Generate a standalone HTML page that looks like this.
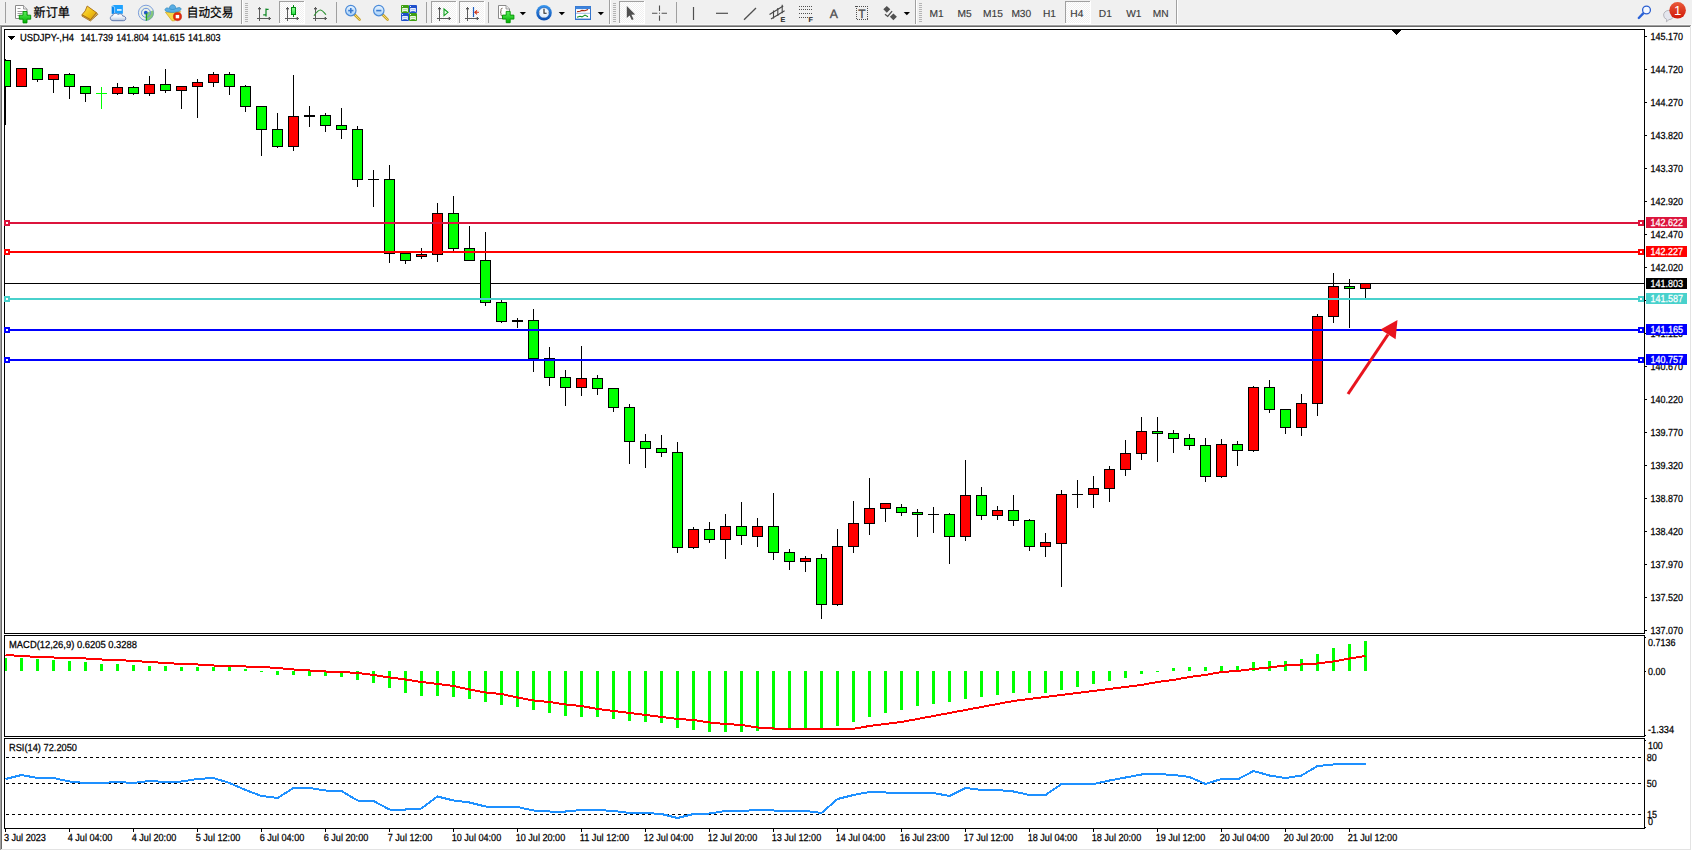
<!DOCTYPE html><html><head><meta charset="utf-8"><title>USDJPY H4</title>
<style>html,body{margin:0;padding:0;background:#fff;}body{width:1692px;height:851px;overflow:hidden;position:relative;font-family:"Liberation Sans","Noto Sans CJK SC",sans-serif;}svg{position:absolute;left:0;top:0;display:block}text{font-family:"Liberation Sans","Noto Sans CJK SC",sans-serif;}</style></head><body>
<svg width="1692" height="851" viewBox="0 0 1692 851" text-rendering="geometricPrecision">
<g shape-rendering="crispEdges">
<rect x="0" y="0" width="1692" height="851" fill="#ffffff"/>
<rect x="0" y="0" width="1692" height="24" fill="#f0f0f0"/>
<rect x="0" y="24" width="1692" height="1" fill="#f7f7f7"/>
<rect x="0" y="25" width="1691" height="1" fill="#a0a0a0"/>
<rect x="0" y="25" width="1" height="825" fill="#a0a0a0"/>
<rect x="1" y="26" width="1689" height="1" fill="#696969"/>
<rect x="1" y="26" width="1" height="823" fill="#696969"/>
<rect x="1690" y="26" width="1" height="824" fill="#e3e3e3"/>
<rect x="1" y="849" width="1690" height="1" fill="#e3e3e3"/>
<rect x="4" y="29" width="1641" height="1" fill="#000"/>
<rect x="4" y="633" width="1641" height="1" fill="#000"/>
<rect x="4" y="29" width="1" height="605" fill="#000"/>
<rect x="1644" y="29" width="1" height="605" fill="#000"/>
<rect x="4" y="635" width="1641" height="1" fill="#000"/>
<rect x="4" y="736" width="1641" height="1" fill="#000"/>
<rect x="4" y="635" width="1" height="102" fill="#000"/>
<rect x="1644" y="635" width="1" height="102" fill="#000"/>
<rect x="4" y="738" width="1641" height="1" fill="#000"/>
<rect x="4" y="828" width="1641" height="1" fill="#000"/>
<rect x="4" y="738" width="1" height="91" fill="#000"/>
<rect x="1644" y="738" width="1" height="91" fill="#000"/>
<rect x="1392" y="30" width="9" height="1" fill="#000"/>
<rect x="1393" y="31" width="7" height="1" fill="#000"/>
<rect x="1394" y="32" width="5" height="1" fill="#000"/>
<rect x="1395" y="33" width="3" height="1" fill="#000"/>
<rect x="1396" y="34" width="1" height="1" fill="#000"/>
<rect x="8" y="36" width="7" height="1" fill="#000"/>
<rect x="9" y="37" width="5" height="1" fill="#000"/>
<rect x="10" y="38" width="3" height="1" fill="#000"/>
<rect x="11" y="39" width="1" height="1" fill="#000"/>
<rect x="5" y="283" width="1639" height="1" fill="#000"/>
<rect x="5" y="59" width="1" height="66" fill="#000"/>
<rect x="5" y="60" width="6" height="27" fill="#000"/>
<rect x="5" y="61" width="5" height="25" fill="#00ff00"/>
<rect x="21" y="68" width="1" height="19" fill="#000"/>
<rect x="16" y="68" width="11" height="19" fill="#000"/>
<rect x="17" y="69" width="9" height="17" fill="#ff0000"/>
<rect x="37" y="68" width="1" height="14" fill="#000"/>
<rect x="32" y="68" width="11" height="12" fill="#000"/>
<rect x="33" y="69" width="9" height="10" fill="#00ff00"/>
<rect x="53" y="74" width="1" height="19" fill="#000"/>
<rect x="48" y="74" width="11" height="6" fill="#000"/>
<rect x="49" y="75" width="9" height="4" fill="#ff0000"/>
<rect x="69" y="73" width="1" height="26" fill="#000"/>
<rect x="64" y="74" width="11" height="13" fill="#000"/>
<rect x="65" y="75" width="9" height="11" fill="#00ff00"/>
<rect x="85" y="86" width="1" height="16" fill="#000"/>
<rect x="80" y="86" width="11" height="8" fill="#000"/>
<rect x="81" y="87" width="9" height="6" fill="#00ff00"/>
<rect x="101" y="87" width="1" height="22" fill="#00ff00"/>
<rect x="96" y="93" width="11" height="1" fill="#00ff00"/>
<rect x="117" y="83" width="1" height="12" fill="#000"/>
<rect x="112" y="87" width="11" height="7" fill="#000"/>
<rect x="113" y="88" width="9" height="5" fill="#ff0000"/>
<rect x="133" y="86" width="1" height="9" fill="#000"/>
<rect x="128" y="87" width="11" height="7" fill="#000"/>
<rect x="129" y="88" width="9" height="5" fill="#00ff00"/>
<rect x="149" y="76" width="1" height="20" fill="#000"/>
<rect x="144" y="84" width="11" height="10" fill="#000"/>
<rect x="145" y="85" width="9" height="8" fill="#ff0000"/>
<rect x="165" y="69" width="1" height="24" fill="#000"/>
<rect x="160" y="84" width="11" height="7" fill="#000"/>
<rect x="161" y="85" width="9" height="5" fill="#00ff00"/>
<rect x="181" y="86" width="1" height="23" fill="#000"/>
<rect x="176" y="86" width="11" height="5" fill="#000"/>
<rect x="177" y="87" width="9" height="3" fill="#ff0000"/>
<rect x="197" y="79" width="1" height="39" fill="#000"/>
<rect x="192" y="82" width="11" height="5" fill="#000"/>
<rect x="193" y="83" width="9" height="3" fill="#ff0000"/>
<rect x="213" y="72" width="1" height="15" fill="#000"/>
<rect x="208" y="74" width="11" height="9" fill="#000"/>
<rect x="209" y="75" width="9" height="7" fill="#ff0000"/>
<rect x="229" y="72" width="1" height="23" fill="#000"/>
<rect x="224" y="74" width="11" height="13" fill="#000"/>
<rect x="225" y="75" width="9" height="11" fill="#00ff00"/>
<rect x="245" y="85" width="1" height="27" fill="#000"/>
<rect x="240" y="86" width="11" height="21" fill="#000"/>
<rect x="241" y="87" width="9" height="19" fill="#00ff00"/>
<rect x="261" y="106" width="1" height="50" fill="#000"/>
<rect x="256" y="106" width="11" height="24" fill="#000"/>
<rect x="257" y="107" width="9" height="22" fill="#00ff00"/>
<rect x="277" y="113" width="1" height="35" fill="#000"/>
<rect x="272" y="129" width="11" height="18" fill="#000"/>
<rect x="273" y="130" width="9" height="16" fill="#00ff00"/>
<rect x="293" y="75" width="1" height="76" fill="#000"/>
<rect x="288" y="116" width="11" height="31" fill="#000"/>
<rect x="289" y="117" width="9" height="29" fill="#ff0000"/>
<rect x="309" y="106" width="1" height="21" fill="#000"/>
<rect x="304" y="115" width="11" height="2" fill="#000"/>
<rect x="325" y="113" width="1" height="19" fill="#000"/>
<rect x="320" y="115" width="11" height="11" fill="#000"/>
<rect x="321" y="116" width="9" height="9" fill="#00ff00"/>
<rect x="341" y="108" width="1" height="31" fill="#000"/>
<rect x="336" y="125" width="11" height="5" fill="#000"/>
<rect x="337" y="126" width="9" height="3" fill="#00ff00"/>
<rect x="357" y="126" width="1" height="61" fill="#000"/>
<rect x="352" y="129" width="11" height="51" fill="#000"/>
<rect x="353" y="130" width="9" height="49" fill="#00ff00"/>
<rect x="373" y="170" width="1" height="37" fill="#000"/>
<rect x="368" y="179" width="11" height="1" fill="#000"/>
<rect x="389" y="165" width="1" height="98" fill="#000"/>
<rect x="384" y="179" width="11" height="75" fill="#000"/>
<rect x="385" y="180" width="9" height="73" fill="#00ff00"/>
<rect x="405" y="253" width="1" height="11" fill="#000"/>
<rect x="400" y="253" width="11" height="8" fill="#000"/>
<rect x="401" y="254" width="9" height="6" fill="#00ff00"/>
<rect x="421" y="248" width="1" height="11" fill="#000"/>
<rect x="416" y="254" width="11" height="3" fill="#000"/>
<rect x="417" y="255" width="9" height="1" fill="#ff0000"/>
<rect x="437" y="203" width="1" height="59" fill="#000"/>
<rect x="432" y="213" width="11" height="42" fill="#000"/>
<rect x="433" y="214" width="9" height="40" fill="#ff0000"/>
<rect x="453" y="196" width="1" height="55" fill="#000"/>
<rect x="448" y="213" width="11" height="36" fill="#000"/>
<rect x="449" y="214" width="9" height="34" fill="#00ff00"/>
<rect x="469" y="226" width="1" height="35" fill="#000"/>
<rect x="464" y="248" width="11" height="13" fill="#000"/>
<rect x="465" y="249" width="9" height="11" fill="#00ff00"/>
<rect x="485" y="232" width="1" height="74" fill="#000"/>
<rect x="480" y="260" width="11" height="43" fill="#000"/>
<rect x="481" y="261" width="9" height="41" fill="#00ff00"/>
<rect x="501" y="300" width="1" height="23" fill="#000"/>
<rect x="496" y="302" width="11" height="20" fill="#000"/>
<rect x="497" y="303" width="9" height="18" fill="#00ff00"/>
<rect x="517" y="318" width="1" height="10" fill="#000"/>
<rect x="512" y="320" width="11" height="2" fill="#000"/>
<rect x="533" y="309" width="1" height="63" fill="#000"/>
<rect x="528" y="320" width="11" height="39" fill="#000"/>
<rect x="529" y="321" width="9" height="37" fill="#00ff00"/>
<rect x="549" y="347" width="1" height="39" fill="#000"/>
<rect x="544" y="358" width="11" height="20" fill="#000"/>
<rect x="545" y="359" width="9" height="18" fill="#00ff00"/>
<rect x="565" y="370" width="1" height="36" fill="#000"/>
<rect x="560" y="377" width="11" height="11" fill="#000"/>
<rect x="561" y="378" width="9" height="9" fill="#00ff00"/>
<rect x="581" y="346" width="1" height="50" fill="#000"/>
<rect x="576" y="378" width="11" height="10" fill="#000"/>
<rect x="577" y="379" width="9" height="8" fill="#ff0000"/>
<rect x="597" y="375" width="1" height="20" fill="#000"/>
<rect x="592" y="378" width="11" height="11" fill="#000"/>
<rect x="593" y="379" width="9" height="9" fill="#00ff00"/>
<rect x="613" y="388" width="1" height="24" fill="#000"/>
<rect x="608" y="388" width="11" height="20" fill="#000"/>
<rect x="609" y="389" width="9" height="18" fill="#00ff00"/>
<rect x="629" y="404" width="1" height="60" fill="#000"/>
<rect x="624" y="407" width="11" height="35" fill="#000"/>
<rect x="625" y="408" width="9" height="33" fill="#00ff00"/>
<rect x="645" y="434" width="1" height="34" fill="#000"/>
<rect x="640" y="441" width="11" height="8" fill="#000"/>
<rect x="641" y="442" width="9" height="6" fill="#00ff00"/>
<rect x="661" y="435" width="1" height="22" fill="#000"/>
<rect x="656" y="448" width="11" height="5" fill="#000"/>
<rect x="657" y="449" width="9" height="3" fill="#00ff00"/>
<rect x="677" y="442" width="1" height="111" fill="#000"/>
<rect x="672" y="452" width="11" height="96" fill="#000"/>
<rect x="673" y="453" width="9" height="94" fill="#00ff00"/>
<rect x="693" y="527" width="1" height="22" fill="#000"/>
<rect x="688" y="529" width="11" height="19" fill="#000"/>
<rect x="689" y="530" width="9" height="17" fill="#ff0000"/>
<rect x="709" y="522" width="1" height="21" fill="#000"/>
<rect x="704" y="529" width="11" height="11" fill="#000"/>
<rect x="705" y="530" width="9" height="9" fill="#00ff00"/>
<rect x="725" y="514" width="1" height="45" fill="#000"/>
<rect x="720" y="526" width="11" height="14" fill="#000"/>
<rect x="721" y="527" width="9" height="12" fill="#ff0000"/>
<rect x="741" y="502" width="1" height="43" fill="#000"/>
<rect x="736" y="526" width="11" height="10" fill="#000"/>
<rect x="737" y="527" width="9" height="8" fill="#00ff00"/>
<rect x="757" y="518" width="1" height="29" fill="#000"/>
<rect x="752" y="526" width="11" height="11" fill="#000"/>
<rect x="753" y="527" width="9" height="9" fill="#ff0000"/>
<rect x="773" y="493" width="1" height="67" fill="#000"/>
<rect x="768" y="526" width="11" height="27" fill="#000"/>
<rect x="769" y="527" width="9" height="25" fill="#00ff00"/>
<rect x="789" y="549" width="1" height="21" fill="#000"/>
<rect x="784" y="552" width="11" height="10" fill="#000"/>
<rect x="785" y="553" width="9" height="8" fill="#00ff00"/>
<rect x="805" y="556" width="1" height="16" fill="#000"/>
<rect x="800" y="558" width="11" height="4" fill="#000"/>
<rect x="801" y="559" width="9" height="2" fill="#ff0000"/>
<rect x="821" y="554" width="1" height="65" fill="#000"/>
<rect x="816" y="558" width="11" height="47" fill="#000"/>
<rect x="817" y="559" width="9" height="45" fill="#00ff00"/>
<rect x="837" y="529" width="1" height="77" fill="#000"/>
<rect x="832" y="546" width="11" height="59" fill="#000"/>
<rect x="833" y="547" width="9" height="57" fill="#ff0000"/>
<rect x="853" y="501" width="1" height="52" fill="#000"/>
<rect x="848" y="523" width="11" height="24" fill="#000"/>
<rect x="849" y="524" width="9" height="22" fill="#ff0000"/>
<rect x="869" y="478" width="1" height="57" fill="#000"/>
<rect x="864" y="508" width="11" height="16" fill="#000"/>
<rect x="865" y="509" width="9" height="14" fill="#ff0000"/>
<rect x="885" y="503" width="1" height="19" fill="#000"/>
<rect x="880" y="503" width="11" height="6" fill="#000"/>
<rect x="881" y="504" width="9" height="4" fill="#ff0000"/>
<rect x="901" y="504" width="1" height="12" fill="#000"/>
<rect x="896" y="507" width="11" height="6" fill="#000"/>
<rect x="897" y="508" width="9" height="4" fill="#00ff00"/>
<rect x="917" y="509" width="1" height="28" fill="#000"/>
<rect x="912" y="512" width="11" height="3" fill="#000"/>
<rect x="913" y="513" width="9" height="1" fill="#00ff00"/>
<rect x="933" y="507" width="1" height="26" fill="#000"/>
<rect x="928" y="514" width="11" height="1" fill="#000"/>
<rect x="949" y="513" width="1" height="51" fill="#000"/>
<rect x="944" y="514" width="11" height="23" fill="#000"/>
<rect x="945" y="515" width="9" height="21" fill="#00ff00"/>
<rect x="965" y="460" width="1" height="81" fill="#000"/>
<rect x="960" y="495" width="11" height="42" fill="#000"/>
<rect x="961" y="496" width="9" height="40" fill="#ff0000"/>
<rect x="981" y="487" width="1" height="33" fill="#000"/>
<rect x="976" y="495" width="11" height="21" fill="#000"/>
<rect x="977" y="496" width="9" height="19" fill="#00ff00"/>
<rect x="997" y="506" width="1" height="14" fill="#000"/>
<rect x="992" y="510" width="11" height="6" fill="#000"/>
<rect x="993" y="511" width="9" height="4" fill="#ff0000"/>
<rect x="1013" y="495" width="1" height="31" fill="#000"/>
<rect x="1008" y="510" width="11" height="11" fill="#000"/>
<rect x="1009" y="511" width="9" height="9" fill="#00ff00"/>
<rect x="1029" y="519" width="1" height="32" fill="#000"/>
<rect x="1024" y="520" width="11" height="27" fill="#000"/>
<rect x="1025" y="521" width="9" height="25" fill="#00ff00"/>
<rect x="1045" y="533" width="1" height="24" fill="#000"/>
<rect x="1040" y="542" width="11" height="5" fill="#000"/>
<rect x="1041" y="543" width="9" height="3" fill="#ff0000"/>
<rect x="1061" y="490" width="1" height="97" fill="#000"/>
<rect x="1056" y="494" width="11" height="50" fill="#000"/>
<rect x="1057" y="495" width="9" height="48" fill="#ff0000"/>
<rect x="1077" y="480" width="1" height="28" fill="#000"/>
<rect x="1072" y="494" width="11" height="1" fill="#000"/>
<rect x="1093" y="476" width="1" height="32" fill="#000"/>
<rect x="1088" y="488" width="11" height="7" fill="#000"/>
<rect x="1089" y="489" width="9" height="5" fill="#ff0000"/>
<rect x="1109" y="466" width="1" height="36" fill="#000"/>
<rect x="1104" y="469" width="11" height="20" fill="#000"/>
<rect x="1105" y="470" width="9" height="18" fill="#ff0000"/>
<rect x="1125" y="440" width="1" height="36" fill="#000"/>
<rect x="1120" y="453" width="11" height="17" fill="#000"/>
<rect x="1121" y="454" width="9" height="15" fill="#ff0000"/>
<rect x="1141" y="417" width="1" height="43" fill="#000"/>
<rect x="1136" y="431" width="11" height="23" fill="#000"/>
<rect x="1137" y="432" width="9" height="21" fill="#ff0000"/>
<rect x="1157" y="417" width="1" height="45" fill="#000"/>
<rect x="1152" y="431" width="11" height="3" fill="#000"/>
<rect x="1153" y="432" width="9" height="1" fill="#00ff00"/>
<rect x="1173" y="430" width="1" height="23" fill="#000"/>
<rect x="1168" y="433" width="11" height="6" fill="#000"/>
<rect x="1169" y="434" width="9" height="4" fill="#00ff00"/>
<rect x="1189" y="434" width="1" height="16" fill="#000"/>
<rect x="1184" y="438" width="11" height="8" fill="#000"/>
<rect x="1185" y="439" width="9" height="6" fill="#00ff00"/>
<rect x="1205" y="438" width="1" height="44" fill="#000"/>
<rect x="1200" y="445" width="11" height="32" fill="#000"/>
<rect x="1201" y="446" width="9" height="30" fill="#00ff00"/>
<rect x="1221" y="439" width="1" height="39" fill="#000"/>
<rect x="1216" y="444" width="11" height="33" fill="#000"/>
<rect x="1217" y="445" width="9" height="31" fill="#ff0000"/>
<rect x="1237" y="441" width="1" height="25" fill="#000"/>
<rect x="1232" y="444" width="11" height="7" fill="#000"/>
<rect x="1233" y="445" width="9" height="5" fill="#00ff00"/>
<rect x="1253" y="386" width="1" height="66" fill="#000"/>
<rect x="1248" y="387" width="11" height="64" fill="#000"/>
<rect x="1249" y="388" width="9" height="62" fill="#ff0000"/>
<rect x="1269" y="380" width="1" height="33" fill="#000"/>
<rect x="1264" y="387" width="11" height="23" fill="#000"/>
<rect x="1265" y="388" width="9" height="21" fill="#00ff00"/>
<rect x="1285" y="409" width="1" height="25" fill="#000"/>
<rect x="1280" y="409" width="11" height="19" fill="#000"/>
<rect x="1281" y="410" width="9" height="17" fill="#00ff00"/>
<rect x="1301" y="394" width="1" height="42" fill="#000"/>
<rect x="1296" y="403" width="11" height="25" fill="#000"/>
<rect x="1297" y="404" width="9" height="23" fill="#ff0000"/>
<rect x="1317" y="314" width="1" height="102" fill="#000"/>
<rect x="1312" y="316" width="11" height="88" fill="#000"/>
<rect x="1313" y="317" width="9" height="86" fill="#ff0000"/>
<rect x="1333" y="273" width="1" height="50" fill="#000"/>
<rect x="1328" y="286" width="11" height="31" fill="#000"/>
<rect x="1329" y="287" width="9" height="29" fill="#ff0000"/>
<rect x="1349" y="279" width="1" height="49" fill="#000"/>
<rect x="1344" y="286" width="11" height="3" fill="#000"/>
<rect x="1345" y="287" width="9" height="1" fill="#00ff00"/>
<rect x="1365" y="283" width="1" height="15" fill="#000"/>
<rect x="1360" y="283" width="11" height="6" fill="#000"/>
<rect x="1361" y="284" width="9" height="4" fill="#ff0000"/>
<rect x="5" y="222" width="1639" height="2" fill="#dc143c"/>
<rect x="4" y="220" width="6" height="6" fill="#dc143c"/>
<rect x="6" y="222" width="2" height="2" fill="#fff"/>
<rect x="1638" y="220" width="6" height="6" fill="#dc143c"/>
<rect x="1640" y="222" width="2" height="2" fill="#fff"/>
<rect x="5" y="251" width="1639" height="2" fill="#ff0000"/>
<rect x="4" y="249" width="6" height="6" fill="#ff0000"/>
<rect x="6" y="251" width="2" height="2" fill="#fff"/>
<rect x="1638" y="249" width="6" height="6" fill="#ff0000"/>
<rect x="1640" y="251" width="2" height="2" fill="#fff"/>
<rect x="5" y="298" width="1639" height="2" fill="#48d1cc"/>
<rect x="4" y="296" width="6" height="6" fill="#48d1cc"/>
<rect x="6" y="298" width="2" height="2" fill="#fff"/>
<rect x="1638" y="296" width="6" height="6" fill="#48d1cc"/>
<rect x="1640" y="298" width="2" height="2" fill="#fff"/>
<rect x="5" y="329" width="1639" height="2" fill="#0000ff"/>
<rect x="4" y="327" width="6" height="6" fill="#0000ff"/>
<rect x="6" y="329" width="2" height="2" fill="#fff"/>
<rect x="1638" y="327" width="6" height="6" fill="#0000ff"/>
<rect x="1640" y="329" width="2" height="2" fill="#fff"/>
<rect x="5" y="359" width="1639" height="2" fill="#0000ff"/>
<rect x="4" y="357" width="6" height="6" fill="#0000ff"/>
<rect x="6" y="359" width="2" height="2" fill="#fff"/>
<rect x="1638" y="357" width="6" height="6" fill="#0000ff"/>
<rect x="1640" y="359" width="2" height="2" fill="#fff"/>
<rect x="1645" y="36" width="2" height="1" fill="#000"/>
<rect x="1645" y="69" width="2" height="1" fill="#000"/>
<rect x="1645" y="102" width="2" height="1" fill="#000"/>
<rect x="1645" y="135" width="2" height="1" fill="#000"/>
<rect x="1645" y="168" width="2" height="1" fill="#000"/>
<rect x="1645" y="201" width="2" height="1" fill="#000"/>
<rect x="1645" y="234" width="2" height="1" fill="#000"/>
<rect x="1645" y="267" width="2" height="1" fill="#000"/>
<rect x="1645" y="300" width="2" height="1" fill="#000"/>
<rect x="1645" y="333" width="2" height="1" fill="#000"/>
<rect x="1645" y="366" width="2" height="1" fill="#000"/>
<rect x="1645" y="399" width="2" height="1" fill="#000"/>
<rect x="1645" y="432" width="2" height="1" fill="#000"/>
<rect x="1645" y="465" width="2" height="1" fill="#000"/>
<rect x="1645" y="498" width="2" height="1" fill="#000"/>
<rect x="1645" y="531" width="2" height="1" fill="#000"/>
<rect x="1645" y="564" width="2" height="1" fill="#000"/>
<rect x="1645" y="597" width="2" height="1" fill="#000"/>
<rect x="1645" y="630" width="2" height="1" fill="#000"/>
<rect x="1646" y="278" width="41" height="11" fill="#000"/>
<rect x="1646" y="217" width="41" height="11" fill="#dc143c"/>
<rect x="1646" y="246" width="41" height="11" fill="#ff0000"/>
<rect x="1646" y="293" width="41" height="11" fill="#48d1cc"/>
<rect x="1646" y="324" width="41" height="11" fill="#0000ff"/>
<rect x="1646" y="354" width="41" height="11" fill="#0000ff"/>
<rect x="5" y="658" width="2" height="13" fill="#00ff00"/>
<rect x="20" y="658" width="3" height="13" fill="#00ff00"/>
<rect x="36" y="659" width="3" height="12" fill="#00ff00"/>
<rect x="52" y="660" width="3" height="11" fill="#00ff00"/>
<rect x="68" y="661" width="3" height="10" fill="#00ff00"/>
<rect x="84" y="662" width="3" height="9" fill="#00ff00"/>
<rect x="100" y="664" width="3" height="7" fill="#00ff00"/>
<rect x="116" y="664" width="3" height="7" fill="#00ff00"/>
<rect x="132" y="665" width="3" height="6" fill="#00ff00"/>
<rect x="148" y="666" width="3" height="5" fill="#00ff00"/>
<rect x="164" y="666" width="3" height="5" fill="#00ff00"/>
<rect x="180" y="667" width="3" height="4" fill="#00ff00"/>
<rect x="196" y="667" width="3" height="4" fill="#00ff00"/>
<rect x="212" y="667" width="3" height="4" fill="#00ff00"/>
<rect x="228" y="667" width="3" height="4" fill="#00ff00"/>
<rect x="244" y="669" width="3" height="2" fill="#00ff00"/>
<rect x="260" y="671" width="3" height="1" fill="#00ff00"/>
<rect x="276" y="671" width="3" height="4" fill="#00ff00"/>
<rect x="292" y="671" width="3" height="4" fill="#00ff00"/>
<rect x="308" y="671" width="3" height="5" fill="#00ff00"/>
<rect x="324" y="671" width="3" height="5" fill="#00ff00"/>
<rect x="340" y="671" width="3" height="6" fill="#00ff00"/>
<rect x="356" y="671" width="3" height="9" fill="#00ff00"/>
<rect x="372" y="671" width="3" height="12" fill="#00ff00"/>
<rect x="388" y="671" width="3" height="17" fill="#00ff00"/>
<rect x="404" y="671" width="3" height="22" fill="#00ff00"/>
<rect x="420" y="671" width="3" height="25" fill="#00ff00"/>
<rect x="436" y="671" width="3" height="25" fill="#00ff00"/>
<rect x="452" y="671" width="3" height="26" fill="#00ff00"/>
<rect x="468" y="671" width="3" height="28" fill="#00ff00"/>
<rect x="484" y="671" width="3" height="31" fill="#00ff00"/>
<rect x="500" y="671" width="3" height="34" fill="#00ff00"/>
<rect x="516" y="671" width="3" height="36" fill="#00ff00"/>
<rect x="532" y="671" width="3" height="39" fill="#00ff00"/>
<rect x="548" y="671" width="3" height="42" fill="#00ff00"/>
<rect x="564" y="671" width="3" height="45" fill="#00ff00"/>
<rect x="580" y="671" width="3" height="46" fill="#00ff00"/>
<rect x="596" y="671" width="3" height="46" fill="#00ff00"/>
<rect x="612" y="671" width="3" height="48" fill="#00ff00"/>
<rect x="628" y="671" width="3" height="50" fill="#00ff00"/>
<rect x="644" y="671" width="3" height="51" fill="#00ff00"/>
<rect x="660" y="671" width="3" height="52" fill="#00ff00"/>
<rect x="676" y="671" width="3" height="57" fill="#00ff00"/>
<rect x="692" y="671" width="3" height="59" fill="#00ff00"/>
<rect x="708" y="671" width="3" height="61" fill="#00ff00"/>
<rect x="724" y="671" width="3" height="61" fill="#00ff00"/>
<rect x="740" y="671" width="3" height="61" fill="#00ff00"/>
<rect x="756" y="671" width="3" height="60" fill="#00ff00"/>
<rect x="772" y="671" width="3" height="59" fill="#00ff00"/>
<rect x="788" y="671" width="3" height="58" fill="#00ff00"/>
<rect x="804" y="671" width="3" height="57" fill="#00ff00"/>
<rect x="820" y="671" width="3" height="57" fill="#00ff00"/>
<rect x="836" y="671" width="3" height="55" fill="#00ff00"/>
<rect x="852" y="671" width="3" height="51" fill="#00ff00"/>
<rect x="868" y="671" width="3" height="46" fill="#00ff00"/>
<rect x="884" y="671" width="3" height="42" fill="#00ff00"/>
<rect x="900" y="671" width="3" height="39" fill="#00ff00"/>
<rect x="916" y="671" width="3" height="35" fill="#00ff00"/>
<rect x="932" y="671" width="3" height="33" fill="#00ff00"/>
<rect x="948" y="671" width="3" height="31" fill="#00ff00"/>
<rect x="964" y="671" width="3" height="28" fill="#00ff00"/>
<rect x="980" y="671" width="3" height="26" fill="#00ff00"/>
<rect x="996" y="671" width="3" height="24" fill="#00ff00"/>
<rect x="1012" y="671" width="3" height="22" fill="#00ff00"/>
<rect x="1028" y="671" width="3" height="22" fill="#00ff00"/>
<rect x="1044" y="671" width="3" height="22" fill="#00ff00"/>
<rect x="1060" y="671" width="3" height="19" fill="#00ff00"/>
<rect x="1076" y="671" width="3" height="16" fill="#00ff00"/>
<rect x="1092" y="671" width="3" height="13" fill="#00ff00"/>
<rect x="1108" y="671" width="3" height="10" fill="#00ff00"/>
<rect x="1124" y="671" width="3" height="7" fill="#00ff00"/>
<rect x="1140" y="671" width="3" height="3" fill="#00ff00"/>
<rect x="1156" y="671" width="3" height="1" fill="#00ff00"/>
<rect x="1172" y="668" width="3" height="3" fill="#00ff00"/>
<rect x="1188" y="667" width="3" height="4" fill="#00ff00"/>
<rect x="1204" y="667" width="3" height="4" fill="#00ff00"/>
<rect x="1220" y="666" width="3" height="5" fill="#00ff00"/>
<rect x="1236" y="666" width="3" height="5" fill="#00ff00"/>
<rect x="1252" y="662" width="3" height="9" fill="#00ff00"/>
<rect x="1268" y="661" width="3" height="10" fill="#00ff00"/>
<rect x="1284" y="661" width="3" height="10" fill="#00ff00"/>
<rect x="1300" y="659" width="3" height="12" fill="#00ff00"/>
<rect x="1316" y="654" width="3" height="17" fill="#00ff00"/>
<rect x="1332" y="648" width="3" height="23" fill="#00ff00"/>
<rect x="1348" y="644" width="3" height="27" fill="#00ff00"/>
<rect x="1364" y="641" width="3" height="30" fill="#00ff00"/>
<rect x="1645" y="637" width="1" height="1" fill="#000"/>
<rect x="1645" y="671" width="1" height="1" fill="#000"/>
<rect x="1645" y="735" width="1" height="1" fill="#000"/>
<rect x="1645" y="740" width="1" height="1" fill="#000"/>
<rect x="1645" y="827" width="1" height="1" fill="#000"/>
<path d="M6 757.5 H1644" stroke="#000" stroke-width="1" stroke-dasharray="3 3" fill="none"/>
<path d="M6 783.5 H1644" stroke="#000" stroke-width="1" stroke-dasharray="3 3" fill="none"/>
<path d="M6 814.5 H1644" stroke="#000" stroke-width="1" stroke-dasharray="3 3" fill="none"/>
<rect x="5" y="829" width="1" height="3" fill="#000"/>
<rect x="69" y="829" width="1" height="3" fill="#000"/>
<rect x="133" y="829" width="1" height="3" fill="#000"/>
<rect x="197" y="829" width="1" height="3" fill="#000"/>
<rect x="261" y="829" width="1" height="3" fill="#000"/>
<rect x="325" y="829" width="1" height="3" fill="#000"/>
<rect x="389" y="829" width="1" height="3" fill="#000"/>
<rect x="453" y="829" width="1" height="3" fill="#000"/>
<rect x="517" y="829" width="1" height="3" fill="#000"/>
<rect x="581" y="829" width="1" height="3" fill="#000"/>
<rect x="645" y="829" width="1" height="3" fill="#000"/>
<rect x="709" y="829" width="1" height="3" fill="#000"/>
<rect x="773" y="829" width="1" height="3" fill="#000"/>
<rect x="837" y="829" width="1" height="3" fill="#000"/>
<rect x="901" y="829" width="1" height="3" fill="#000"/>
<rect x="965" y="829" width="1" height="3" fill="#000"/>
<rect x="1029" y="829" width="1" height="3" fill="#000"/>
<rect x="1093" y="829" width="1" height="3" fill="#000"/>
<rect x="1157" y="829" width="1" height="3" fill="#000"/>
<rect x="1221" y="829" width="1" height="3" fill="#000"/>
<rect x="1285" y="829" width="1" height="3" fill="#000"/>
<rect x="1349" y="829" width="1" height="3" fill="#000"/>
</g>
<polyline points="5.5,655 21.5,656 37.5,657 53.5,657.5 69.5,658 85.5,658.5 101.5,659.5 117.5,660 133.5,661 149.5,662 165.5,663 181.5,664 197.5,664.5 213.5,665.5 229.5,666 245.5,666.5 261.5,667 277.5,668 293.5,669.5 309.5,670.5 325.5,671.5 341.5,672 357.5,673 373.5,675 389.5,677.5 405.5,679.5 421.5,682 437.5,684 453.5,686 469.5,689.5 485.5,692.5 501.5,694 517.5,697.5 533.5,700.5 549.5,702 565.5,704.5 581.5,706 597.5,709 613.5,711 629.5,713 645.5,715 661.5,717 677.5,719 693.5,720 709.5,722.5 725.5,724 741.5,725 757.5,727.5 773.5,728.5 789.5,728.75 805.5,728.75 821.5,728.75 837.5,728.75 853.5,728.75 869.5,726 885.5,724 901.5,722 917.5,719 933.5,716 949.5,713 965.5,710 981.5,707 997.5,704 1013.5,701 1029.5,699 1045.5,697 1061.5,695 1077.5,693 1093.5,691 1109.5,689 1125.5,687 1141.5,685 1157.5,682 1173.5,680 1189.5,677 1205.5,675 1221.5,672 1237.5,671 1253.5,669 1269.5,667.5 1285.5,665.5 1301.5,664.5 1317.5,663.5 1333.5,661.5 1349.5,658.5 1365.5,656" fill="none" stroke="#ff0000" stroke-width="2" stroke-linejoin="round" shape-rendering="crispEdges"/>
<polyline points="5.5,779 21.5,775 37.5,778 53.5,778 69.5,781.5 85.5,783 101.5,783 117.5,782 133.5,783 149.5,781 165.5,782 181.5,781.5 197.5,779 213.5,778 229.5,783 245.5,790 261.5,796 277.5,798 293.5,788 309.5,788 325.5,790.5 341.5,791 357.5,800.5 373.5,801 389.5,809.5 405.5,809.5 421.5,808.5 437.5,796.5 453.5,800.5 469.5,802.5 485.5,806.5 501.5,806.5 517.5,807 533.5,810.5 549.5,811.5 565.5,811.5 581.5,810 597.5,810 613.5,811 629.5,813 645.5,813 661.5,814 677.5,818 693.5,814 709.5,813.5 725.5,811 741.5,811 757.5,810 773.5,810.5 789.5,811 805.5,811 821.5,813 837.5,799 853.5,795 869.5,792 885.5,792.5 901.5,793 917.5,793 933.5,793 949.5,796 965.5,788 981.5,790 997.5,790 1013.5,791.5 1029.5,795 1045.5,795 1061.5,784 1077.5,784 1093.5,784 1109.5,780.5 1125.5,777.5 1141.5,774.5 1157.5,774 1173.5,775 1189.5,777 1205.5,784 1221.5,779 1237.5,779.5 1253.5,771 1269.5,775.5 1285.5,778 1301.5,775.5 1317.5,766 1333.5,764.5 1349.5,764 1365.5,764" fill="none" stroke="#1e90ff" stroke-width="2" stroke-linejoin="round" shape-rendering="crispEdges"/>
<line x1="1348" y1="394" x2="1388" y2="334.5" stroke="#e8141e" stroke-width="3.1"/>
<polygon points="1397.5,320 1380.5,329.5 1395.6,339.2" fill="#e8141e"/>
<text x="20" y="41" font-size="10.2px" fill="#000" stroke="#000" stroke-width="0.25" text-anchor="start" textLength="54" lengthAdjust="spacingAndGlyphs" xml:space="preserve">USDJPY-,H4</text>
<text x="80.5" y="41" font-size="10.2px" fill="#000" stroke="#000" stroke-width="0.25" text-anchor="start" textLength="32.5" lengthAdjust="spacingAndGlyphs" xml:space="preserve">141.739</text>
<text x="116.35" y="41" font-size="10.2px" fill="#000" stroke="#000" stroke-width="0.25" text-anchor="start" textLength="32.5" lengthAdjust="spacingAndGlyphs" xml:space="preserve">141.804</text>
<text x="152.2" y="41" font-size="10.2px" fill="#000" stroke="#000" stroke-width="0.25" text-anchor="start" textLength="32.5" lengthAdjust="spacingAndGlyphs" xml:space="preserve">141.615</text>
<text x="188.05" y="41" font-size="10.2px" fill="#000" stroke="#000" stroke-width="0.25" text-anchor="start" textLength="32.5" lengthAdjust="spacingAndGlyphs" xml:space="preserve">141.803</text>
<text x="9" y="648" font-size="10.2px" fill="#000" stroke="#000" stroke-width="0.25" text-anchor="start" textLength="128" lengthAdjust="spacingAndGlyphs" xml:space="preserve">MACD(12,26,9) 0.6205 0.3288</text>
<text x="9" y="751" font-size="10.2px" fill="#000" stroke="#000" stroke-width="0.25" text-anchor="start" textLength="68" lengthAdjust="spacingAndGlyphs" xml:space="preserve">RSI(14) 72.2050</text>
<text x="1650.5" y="40" font-size="10.2px" fill="#000" stroke="#000" stroke-width="0.25" text-anchor="start" textLength="32.5" lengthAdjust="spacingAndGlyphs" xml:space="preserve">145.170</text>
<text x="1650.5" y="73" font-size="10.2px" fill="#000" stroke="#000" stroke-width="0.25" text-anchor="start" textLength="32.5" lengthAdjust="spacingAndGlyphs" xml:space="preserve">144.720</text>
<text x="1650.5" y="106" font-size="10.2px" fill="#000" stroke="#000" stroke-width="0.25" text-anchor="start" textLength="32.5" lengthAdjust="spacingAndGlyphs" xml:space="preserve">144.270</text>
<text x="1650.5" y="139" font-size="10.2px" fill="#000" stroke="#000" stroke-width="0.25" text-anchor="start" textLength="32.5" lengthAdjust="spacingAndGlyphs" xml:space="preserve">143.820</text>
<text x="1650.5" y="172" font-size="10.2px" fill="#000" stroke="#000" stroke-width="0.25" text-anchor="start" textLength="32.5" lengthAdjust="spacingAndGlyphs" xml:space="preserve">143.370</text>
<text x="1650.5" y="205" font-size="10.2px" fill="#000" stroke="#000" stroke-width="0.25" text-anchor="start" textLength="32.5" lengthAdjust="spacingAndGlyphs" xml:space="preserve">142.920</text>
<text x="1650.5" y="238" font-size="10.2px" fill="#000" stroke="#000" stroke-width="0.25" text-anchor="start" textLength="32.5" lengthAdjust="spacingAndGlyphs" xml:space="preserve">142.470</text>
<text x="1650.5" y="271" font-size="10.2px" fill="#000" stroke="#000" stroke-width="0.25" text-anchor="start" textLength="32.5" lengthAdjust="spacingAndGlyphs" xml:space="preserve">142.020</text>
<text x="1650.5" y="337" font-size="10.2px" fill="#000" stroke="#000" stroke-width="0.25" text-anchor="start" textLength="32.5" lengthAdjust="spacingAndGlyphs" xml:space="preserve">141.120</text>
<text x="1650.5" y="370" font-size="10.2px" fill="#000" stroke="#000" stroke-width="0.25" text-anchor="start" textLength="32.5" lengthAdjust="spacingAndGlyphs" xml:space="preserve">140.670</text>
<text x="1650.5" y="403" font-size="10.2px" fill="#000" stroke="#000" stroke-width="0.25" text-anchor="start" textLength="32.5" lengthAdjust="spacingAndGlyphs" xml:space="preserve">140.220</text>
<text x="1650.5" y="436" font-size="10.2px" fill="#000" stroke="#000" stroke-width="0.25" text-anchor="start" textLength="32.5" lengthAdjust="spacingAndGlyphs" xml:space="preserve">139.770</text>
<text x="1650.5" y="469" font-size="10.2px" fill="#000" stroke="#000" stroke-width="0.25" text-anchor="start" textLength="32.5" lengthAdjust="spacingAndGlyphs" xml:space="preserve">139.320</text>
<text x="1650.5" y="502" font-size="10.2px" fill="#000" stroke="#000" stroke-width="0.25" text-anchor="start" textLength="32.5" lengthAdjust="spacingAndGlyphs" xml:space="preserve">138.870</text>
<text x="1650.5" y="535" font-size="10.2px" fill="#000" stroke="#000" stroke-width="0.25" text-anchor="start" textLength="32.5" lengthAdjust="spacingAndGlyphs" xml:space="preserve">138.420</text>
<text x="1650.5" y="568" font-size="10.2px" fill="#000" stroke="#000" stroke-width="0.25" text-anchor="start" textLength="32.5" lengthAdjust="spacingAndGlyphs" xml:space="preserve">137.970</text>
<text x="1650.5" y="601" font-size="10.2px" fill="#000" stroke="#000" stroke-width="0.25" text-anchor="start" textLength="32.5" lengthAdjust="spacingAndGlyphs" xml:space="preserve">137.520</text>
<text x="1650.5" y="634" font-size="10.2px" fill="#000" stroke="#000" stroke-width="0.25" text-anchor="start" textLength="32.5" lengthAdjust="spacingAndGlyphs" xml:space="preserve">137.070</text>
<g shape-rendering="crispEdges">
<rect x="1646" y="278" width="41" height="11" fill="#000"/>
<rect x="1646" y="217" width="41" height="11" fill="#dc143c"/>
<rect x="1646" y="246" width="41" height="11" fill="#ff0000"/>
<rect x="1646" y="293" width="41" height="11" fill="#48d1cc"/>
<rect x="1646" y="324" width="41" height="11" fill="#0000ff"/>
<rect x="1646" y="354" width="41" height="11" fill="#0000ff"/>
</g>
<text x="1650.5" y="287" font-size="10.2px" fill="#fff" stroke="#fff" stroke-width="0.25" text-anchor="start" textLength="32.5" lengthAdjust="spacingAndGlyphs" xml:space="preserve">141.803</text>
<text x="1650.5" y="226" font-size="10.2px" fill="#fff" stroke="#fff" stroke-width="0.25" text-anchor="start" textLength="32.5" lengthAdjust="spacingAndGlyphs" xml:space="preserve">142.622</text>
<text x="1650.5" y="255" font-size="10.2px" fill="#fff" stroke="#fff" stroke-width="0.25" text-anchor="start" textLength="32.5" lengthAdjust="spacingAndGlyphs" xml:space="preserve">142.227</text>
<text x="1650.5" y="302" font-size="10.2px" fill="#fff" stroke="#fff" stroke-width="0.25" text-anchor="start" textLength="32.5" lengthAdjust="spacingAndGlyphs" xml:space="preserve">141.587</text>
<text x="1650.5" y="333" font-size="10.2px" fill="#fff" stroke="#fff" stroke-width="0.25" text-anchor="start" textLength="32.5" lengthAdjust="spacingAndGlyphs" xml:space="preserve">141.165</text>
<text x="1650.5" y="363" font-size="10.2px" fill="#fff" stroke="#fff" stroke-width="0.25" text-anchor="start" textLength="32.5" lengthAdjust="spacingAndGlyphs" xml:space="preserve">140.757</text>
<text x="1648" y="646" font-size="10.2px" fill="#000" stroke="#000" stroke-width="0.25" text-anchor="start" textLength="27.5" lengthAdjust="spacingAndGlyphs" xml:space="preserve">0.7136</text>
<text x="1648" y="675" font-size="10.2px" fill="#000" stroke="#000" stroke-width="0.25" text-anchor="start" textLength="17.5" lengthAdjust="spacingAndGlyphs" xml:space="preserve">0.00</text>
<text x="1648" y="733" font-size="10.2px" fill="#000" stroke="#000" stroke-width="0.25" text-anchor="start" textLength="26" lengthAdjust="spacingAndGlyphs" xml:space="preserve">-1.334</text>
<text x="1648" y="749" font-size="10.2px" fill="#000" stroke="#000" stroke-width="0.25" text-anchor="start" textLength="14.8" lengthAdjust="spacingAndGlyphs" xml:space="preserve">100</text>
<text x="1646.8" y="761" font-size="10.2px" fill="#000" stroke="#000" stroke-width="0.25" text-anchor="start" textLength="10" lengthAdjust="spacingAndGlyphs" xml:space="preserve">80</text>
<text x="1646.8" y="787" font-size="10.2px" fill="#000" stroke="#000" stroke-width="0.25" text-anchor="start" textLength="10" lengthAdjust="spacingAndGlyphs" xml:space="preserve">50</text>
<text x="1647" y="818" font-size="10.2px" fill="#000" stroke="#000" stroke-width="0.25" text-anchor="start" textLength="10" lengthAdjust="spacingAndGlyphs" xml:space="preserve">15</text>
<text x="1648" y="825" font-size="10.2px" fill="#000" stroke="#000" stroke-width="0.25" text-anchor="start" textLength="5" lengthAdjust="spacingAndGlyphs" xml:space="preserve">0</text>
<text x="3.9" y="841" font-size="10.2px" fill="#000" stroke="#000" stroke-width="0.25" text-anchor="start" textLength="42" lengthAdjust="spacingAndGlyphs" xml:space="preserve">3 Jul 2023</text>
<text x="67.7" y="841" font-size="10.2px" fill="#000" stroke="#000" stroke-width="0.25" text-anchor="start" textLength="44.6" lengthAdjust="spacingAndGlyphs" xml:space="preserve">4 Jul 04:00</text>
<text x="131.7" y="841" font-size="10.2px" fill="#000" stroke="#000" stroke-width="0.25" text-anchor="start" textLength="44.6" lengthAdjust="spacingAndGlyphs" xml:space="preserve">4 Jul 20:00</text>
<text x="195.7" y="841" font-size="10.2px" fill="#000" stroke="#000" stroke-width="0.25" text-anchor="start" textLength="44.6" lengthAdjust="spacingAndGlyphs" xml:space="preserve">5 Jul 12:00</text>
<text x="259.7" y="841" font-size="10.2px" fill="#000" stroke="#000" stroke-width="0.25" text-anchor="start" textLength="44.6" lengthAdjust="spacingAndGlyphs" xml:space="preserve">6 Jul 04:00</text>
<text x="323.7" y="841" font-size="10.2px" fill="#000" stroke="#000" stroke-width="0.25" text-anchor="start" textLength="44.6" lengthAdjust="spacingAndGlyphs" xml:space="preserve">6 Jul 20:00</text>
<text x="387.7" y="841" font-size="10.2px" fill="#000" stroke="#000" stroke-width="0.25" text-anchor="start" textLength="44.6" lengthAdjust="spacingAndGlyphs" xml:space="preserve">7 Jul 12:00</text>
<text x="451.7" y="841" font-size="10.2px" fill="#000" stroke="#000" stroke-width="0.25" text-anchor="start" textLength="49.5" lengthAdjust="spacingAndGlyphs" xml:space="preserve">10 Jul 04:00</text>
<text x="515.7" y="841" font-size="10.2px" fill="#000" stroke="#000" stroke-width="0.25" text-anchor="start" textLength="49.5" lengthAdjust="spacingAndGlyphs" xml:space="preserve">10 Jul 20:00</text>
<text x="579.7" y="841" font-size="10.2px" fill="#000" stroke="#000" stroke-width="0.25" text-anchor="start" textLength="49.5" lengthAdjust="spacingAndGlyphs" xml:space="preserve">11 Jul 12:00</text>
<text x="643.7" y="841" font-size="10.2px" fill="#000" stroke="#000" stroke-width="0.25" text-anchor="start" textLength="49.5" lengthAdjust="spacingAndGlyphs" xml:space="preserve">12 Jul 04:00</text>
<text x="707.7" y="841" font-size="10.2px" fill="#000" stroke="#000" stroke-width="0.25" text-anchor="start" textLength="49.5" lengthAdjust="spacingAndGlyphs" xml:space="preserve">12 Jul 20:00</text>
<text x="771.7" y="841" font-size="10.2px" fill="#000" stroke="#000" stroke-width="0.25" text-anchor="start" textLength="49.5" lengthAdjust="spacingAndGlyphs" xml:space="preserve">13 Jul 12:00</text>
<text x="835.7" y="841" font-size="10.2px" fill="#000" stroke="#000" stroke-width="0.25" text-anchor="start" textLength="49.5" lengthAdjust="spacingAndGlyphs" xml:space="preserve">14 Jul 04:00</text>
<text x="899.7" y="841" font-size="10.2px" fill="#000" stroke="#000" stroke-width="0.25" text-anchor="start" textLength="49.5" lengthAdjust="spacingAndGlyphs" xml:space="preserve">16 Jul 23:00</text>
<text x="963.7" y="841" font-size="10.2px" fill="#000" stroke="#000" stroke-width="0.25" text-anchor="start" textLength="49.5" lengthAdjust="spacingAndGlyphs" xml:space="preserve">17 Jul 12:00</text>
<text x="1027.7" y="841" font-size="10.2px" fill="#000" stroke="#000" stroke-width="0.25" text-anchor="start" textLength="49.5" lengthAdjust="spacingAndGlyphs" xml:space="preserve">18 Jul 04:00</text>
<text x="1091.7" y="841" font-size="10.2px" fill="#000" stroke="#000" stroke-width="0.25" text-anchor="start" textLength="49.5" lengthAdjust="spacingAndGlyphs" xml:space="preserve">18 Jul 20:00</text>
<text x="1155.7" y="841" font-size="10.2px" fill="#000" stroke="#000" stroke-width="0.25" text-anchor="start" textLength="49.5" lengthAdjust="spacingAndGlyphs" xml:space="preserve">19 Jul 12:00</text>
<text x="1219.7" y="841" font-size="10.2px" fill="#000" stroke="#000" stroke-width="0.25" text-anchor="start" textLength="49.5" lengthAdjust="spacingAndGlyphs" xml:space="preserve">20 Jul 04:00</text>
<text x="1283.7" y="841" font-size="10.2px" fill="#000" stroke="#000" stroke-width="0.25" text-anchor="start" textLength="49.5" lengthAdjust="spacingAndGlyphs" xml:space="preserve">20 Jul 20:00</text>
<text x="1347.7" y="841" font-size="10.2px" fill="#000" stroke="#000" stroke-width="0.25" text-anchor="start" textLength="49.5" lengthAdjust="spacingAndGlyphs" xml:space="preserve">21 Jul 12:00</text>
<defs><linearGradient id="gG" x1="0" y1="0" x2="0" y2="1"><stop offset="0" stop-color="#5cf05c"/><stop offset="1" stop-color="#00b000"/></linearGradient><linearGradient id="gG2" x1="0" y1="0" x2="0" y2="1"><stop offset="0" stop-color="#a0ffa0"/><stop offset="1" stop-color="#20e040"/></linearGradient><linearGradient id="gCloud" x1="0" y1="0" x2="0" y2="1"><stop offset="0" stop-color="#ffffff"/><stop offset="0.5" stop-color="#f0f3f8"/><stop offset="1" stop-color="#b4c2da"/></linearGradient><linearGradient id="gBlue2" x1="0" y1="0" x2="0" y2="1"><stop offset="0" stop-color="#3a98f0"/><stop offset="1" stop-color="#0a4cb0"/></linearGradient><linearGradient id="gGold" x1="0" y1="0" x2="1" y2="1"><stop offset="0" stop-color="#fbe060"/><stop offset="0.5" stop-color="#f2c418"/><stop offset="1" stop-color="#d89a08"/></linearGradient><linearGradient id="gBlue" x1="0" y1="0" x2="0" y2="1"><stop offset="0" stop-color="#58b8ff"/><stop offset="1" stop-color="#1070e0"/></linearGradient><linearGradient id="gRedB" x1="0" y1="0" x2="0" y2="1"><stop offset="0" stop-color="#ea5a3a"/><stop offset="1" stop-color="#d01808"/></linearGradient><linearGradient id="gLens" x1="0" y1="0" x2="0" y2="1"><stop offset="0" stop-color="#e8f4ff"/><stop offset="1" stop-color="#a8d0f8"/></linearGradient><radialGradient id="gClock" cx="0.5" cy="0.4" r="0.6"><stop offset="0" stop-color="#ffffff"/><stop offset="1" stop-color="#d8e8f8"/></radialGradient><pattern id="chk" width="2" height="2" patternUnits="userSpaceOnUse"><rect width="2" height="2" fill="#ffffff"/><rect width="1" height="1" fill="#f0f0f0"/><rect x="1" y="1" width="1" height="1" fill="#f0f0f0"/></pattern></defs>
<rect x="5" y="2" width="1" height="21" fill="#a0a0a0" shape-rendering="crispEdges"/>
<path d="M15.5 5.5 h8 l3.5 3.5 v9.5 h-11.5 z" fill="#fff" stroke="#8a8a8a" stroke-width="1"/><path d="M23.5 5.5 v3.5 h3.5" fill="#e8e8e8" stroke="#8a8a8a" stroke-width="0.8"/><path d="M17.5 8.5 h3 M17.5 11.5 h6 M17.5 13.5 h5 M17.5 15.5 h3" stroke="#9a9a9a" stroke-width="1"/>
<path d="M23 11.5 h4 v3.7 h3.7 v4 h-3.7 v3.7 h-4 v-3.7 h-3.7 v-4 h3.7 z" fill="url(#gG)" stroke="#009000" stroke-width="0.9"/>
<text x="33.6" y="16.8" font-size="13px" fill="#000" stroke="#000" stroke-width="0.25" textLength="36.2" lengthAdjust="spacingAndGlyphs">新订单</text>
<path d="M96.4 12.6 L97.8 14.4 L90.4 21 L82 16.1 L82 14.7 L90.6 19.6 Z" fill="#cfae5c" stroke="#a06810" stroke-width="0.8" stroke-linejoin="round"/><path d="M87.2 6 L96.4 12.6 L90.6 19.6 L82 14.7 Q85.8 11.4 87.2 6 Z" fill="url(#gGold)" stroke="#a86c10" stroke-width="0.9" stroke-linejoin="round"/>
<path d="M111.8 5.9 L114.2 5.1 H122.9 V13.8 H111.8 Z" fill="#1ea2ff"/><path d="M111.8 5.9 L114.6 7 V13.8 H111.8 Z" fill="#0a86ec"/><path d="M111.9 6 L114.6 7.1 V13.6" stroke="#c4e6ff" stroke-width="0.7" fill="none"/><rect x="117" y="9.1" width="4.6" height="1.7" fill="#e4f4ff"/>
<path d="M113 20.7 C109.6 20.7 109.4 16 112.6 15.6 C112.8 13.2 116.6 12.4 118 14.6 C119.6 13 122.6 13.8 122.6 16 C126.6 15.8 126.8 20.7 123.4 20.7 Z" fill="url(#gCloud)" stroke="#5672aa" stroke-width="0.9"/>
<circle cx="146" cy="12.8" r="7.6" fill="#e9efe9" stroke="#7e9fdc" stroke-width="1"/><path d="M146 12.8 L146 20.4 A7.6 7.6 0 0 0 153.2 10.4 Z" fill="#6cbc64" opacity="0.8"/><circle cx="146" cy="12.8" r="4.5" fill="none" stroke="#6c92dc" stroke-width="1"/><circle cx="145.8" cy="12.7" r="1.9" fill="#2456cc"/><path d="M146.4 13.4 V20.6" stroke="#1ea01e" stroke-width="1.3"/>
<path d="M165.4 12.2 L180.6 11.6 L174.6 20.8 L172 20.8 Z" fill="#f6d848" stroke="#cfa418" stroke-width="0.7"/><path d="M165 9.4 C166.5 6.6 169 8.6 169.4 8.4 C169.6 3.6 175.6 3.6 175.8 8.2 C177 8.6 179.6 6.4 181 8.6 C181.4 11.2 176.6 12.4 172.8 12.4 C169 12.4 164.6 11.6 165 9.4 Z" fill="#5aaee4" stroke="#2f86bc" stroke-width="0.7"/><path d="M169.6 8.6 C171 9.8 174.4 9.8 175.7 8.4" stroke="#2f86bc" stroke-width="0.6" fill="none"/><circle cx="177.5" cy="16.6" r="4.1" fill="#e42a0c" stroke="#b41c08" stroke-width="0.5"/><rect x="175.7" y="14.9" width="3.5" height="3.4" fill="#fff"/>
<text x="186.8" y="16.8" font-size="13px" fill="#000" stroke="#000" stroke-width="0.25" textLength="46.6" lengthAdjust="spacingAndGlyphs">自动交易</text>
<g shape-rendering="crispEdges"><rect x="241" y="0" width="1" height="24" fill="#a0a0a0"/><rect x="242" y="0" width="1" height="24" fill="#ffffff"/>
<rect x="245" y="3" width="3" height="1" fill="#b4b4b4"/>
<rect x="245" y="5" width="3" height="1" fill="#b4b4b4"/>
<rect x="245" y="7" width="3" height="1" fill="#b4b4b4"/>
<rect x="245" y="9" width="3" height="1" fill="#b4b4b4"/>
<rect x="245" y="11" width="3" height="1" fill="#b4b4b4"/>
<rect x="245" y="13" width="3" height="1" fill="#b4b4b4"/>
<rect x="245" y="15" width="3" height="1" fill="#b4b4b4"/>
<rect x="245" y="17" width="3" height="1" fill="#b4b4b4"/>
<rect x="245" y="19" width="3" height="1" fill="#b4b4b4"/>
<rect x="245" y="21" width="3" height="1" fill="#b4b4b4"/>
</g>
<g shape-rendering="crispEdges" fill="#5a5a5a"><rect x="259" y="7" width="1" height="14"/><rect x="257" y="18" width="14" height="1"/><rect x="258" y="8" width="3" height="1"/><rect x="258" y="9" width="3" height="1" opacity="0.35"/><rect x="269" y="17" width="1" height="3"/><rect x="268" y="17" width="1" height="3" opacity="0.35"/></g>
<path d="M266 8.4 V16.6 M266 9.3 h2.6 M263.2 14.9 h2.8" stroke="#128a28" stroke-width="1.25" fill="none"/>
<g shape-rendering="crispEdges"><rect x="279" y="1" width="26" height="23" fill="url(#chk)"/><rect x="279" y="1" width="25" height="1" fill="#a0a0a0"/><rect x="279" y="1" width="1" height="22" fill="#a0a0a0"/><rect x="279" y="23" width="26" height="1" fill="#ffffff"/><rect x="304" y="1" width="1" height="23" fill="#ffffff"/></g>
<g shape-rendering="crispEdges" fill="#5a5a5a"><rect x="287" y="7" width="1" height="14"/><rect x="285" y="18" width="14" height="1"/><rect x="286" y="8" width="3" height="1"/><rect x="286" y="9" width="3" height="1" opacity="0.35"/><rect x="297" y="17" width="1" height="3"/><rect x="296" y="17" width="1" height="3" opacity="0.35"/></g>
<path d="M293.5 5 V17" stroke="#008a10" stroke-width="1"/><rect x="291.5" y="7.5" width="4" height="7" fill="url(#gG2)" stroke="#008a10" stroke-width="1"/>
<g shape-rendering="crispEdges" fill="#5a5a5a"><rect x="315" y="7" width="1" height="14"/><rect x="313" y="18" width="14" height="1"/><rect x="314" y="8" width="3" height="1"/><rect x="314" y="9" width="3" height="1" opacity="0.35"/><rect x="325" y="17" width="1" height="3"/><rect x="324" y="17" width="1" height="3" opacity="0.35"/></g>
<path d="M314 15.8 C316.5 12 318.5 9.8 320.6 10 C322.6 10.2 324 12.5 326 14.6" stroke="#2a9030" stroke-width="1.15" fill="none"/>
<rect x="336" y="2" width="1" height="21" fill="#a0a0a0" shape-rendering="crispEdges"/>
<path d="M354.5 14.5 L359.6 19.6" stroke="#c8a028" stroke-width="2.6" stroke-linecap="round"/><path d="M354.5 14.5 L359.6 19.6" stroke="#f0d870" stroke-width="1" stroke-linecap="round"/>
<circle cx="350.8" cy="10.6" r="5.2" fill="url(#gLens)" stroke="#4a8ad8" stroke-width="1.2"/>
<path d="M348.2 10.6 h5.2" stroke="#3a7ad0" stroke-width="1.6"/>
<path d="M350.8 8 v5.2" stroke="#3a7ad0" stroke-width="1.6"/>
<path d="M382.5 14.5 L387.6 19.6" stroke="#c8a028" stroke-width="2.6" stroke-linecap="round"/><path d="M382.5 14.5 L387.6 19.6" stroke="#f0d870" stroke-width="1" stroke-linecap="round"/>
<circle cx="378.8" cy="10.6" r="5.2" fill="url(#gLens)" stroke="#4a8ad8" stroke-width="1.2"/>
<path d="M376.2 10.6 h5.2" stroke="#3a7ad0" stroke-width="1.6"/>
<rect x="401" y="5" width="8" height="8" rx="1" fill="#3fa012"/><rect x="402" y="6" width="1" height="1" fill="#fff" opacity="0.9"/><rect x="402.2" y="8.1" width="5.6" height="3.8" fill="#fff"/><rect x="403.1" y="9.3" width="3.8" height="0.9" fill="#8fd070"/><rect x="403.2" y="11.2" width="3.6" height="0.8" fill="#3fa012"/>
<rect x="409" y="5" width="8" height="8" rx="1" fill="#1f50cc"/><rect x="410" y="6" width="1" height="1" fill="#fff" opacity="0.9"/><rect x="410.2" y="8.1" width="5.6" height="3.8" fill="#fff"/><rect x="411.1" y="9.3" width="3.8" height="0.9" fill="#88a8f0"/><rect x="411.2" y="11.2" width="3.6" height="0.8" fill="#1f50cc"/>
<rect x="401" y="13" width="8" height="8" rx="1" fill="#1f50cc"/><rect x="402" y="14" width="1" height="1" fill="#fff" opacity="0.9"/><rect x="402.2" y="16.1" width="5.6" height="3.8" fill="#fff"/><rect x="403.1" y="17.3" width="3.8" height="0.9" fill="#88a8f0"/><rect x="403.2" y="19.2" width="3.6" height="0.8" fill="#1f50cc"/>
<rect x="409" y="13" width="8" height="8" rx="1" fill="#3fa012"/><rect x="410" y="14" width="1" height="1" fill="#fff" opacity="0.9"/><rect x="410.2" y="16.1" width="5.6" height="3.8" fill="#fff"/><rect x="411.1" y="17.3" width="3.8" height="0.9" fill="#8fd070"/><rect x="411.2" y="19.2" width="3.6" height="0.8" fill="#3fa012"/>
<rect x="426" y="2" width="1" height="21" fill="#a0a0a0" shape-rendering="crispEdges"/>
<g shape-rendering="crispEdges"><rect x="431" y="1" width="26" height="23" fill="url(#chk)"/><rect x="431" y="1" width="25" height="1" fill="#a0a0a0"/><rect x="431" y="1" width="1" height="22" fill="#a0a0a0"/><rect x="431" y="23" width="26" height="1" fill="#ffffff"/><rect x="456" y="1" width="1" height="23" fill="#ffffff"/></g>
<g shape-rendering="crispEdges" fill="#5a5a5a"><rect x="439" y="7" width="1" height="14"/><rect x="437" y="18" width="14" height="1"/><rect x="438" y="8" width="3" height="1"/><rect x="438" y="9" width="3" height="1" opacity="0.35"/><rect x="449" y="17" width="1" height="3"/><rect x="448" y="17" width="1" height="3" opacity="0.35"/></g>
<path d="M444 9 L448 12.3 L444 15.6 Z" fill="#e8ffe8" stroke="#10a020" stroke-width="1.1"/>
<g shape-rendering="crispEdges"><rect x="459" y="1" width="26" height="23" fill="url(#chk)"/><rect x="459" y="1" width="25" height="1" fill="#a0a0a0"/><rect x="459" y="1" width="1" height="22" fill="#a0a0a0"/><rect x="459" y="23" width="26" height="1" fill="#ffffff"/><rect x="484" y="1" width="1" height="23" fill="#ffffff"/></g>
<g shape-rendering="crispEdges" fill="#5a5a5a"><rect x="467" y="7" width="1" height="14"/><rect x="465" y="18" width="14" height="1"/><rect x="466" y="8" width="3" height="1"/><rect x="466" y="9" width="3" height="1" opacity="0.35"/><rect x="477" y="17" width="1" height="3"/><rect x="476" y="17" width="1" height="3" opacity="0.35"/></g>
<path d="M473.5 7 V17" stroke="#2060c0" stroke-width="1.2"/><path d="M479 12.3 H475 M477 10.3 L474.8 12.3 L477 14.3" stroke="#d03010" stroke-width="1.1" fill="none"/>
<rect x="488" y="2" width="1" height="21" fill="#a0a0a0" shape-rendering="crispEdges"/>
<path d="M498.5 5.5 h7.5 l3.5 3.5 v9.5 h-11 z" fill="#fff" stroke="#8a8a8a" stroke-width="1"/><path d="M506 5.5 v3.5 h3.5" fill="#e8e8e8" stroke="#8a8a8a" stroke-width="0.8"/><path d="M502.6 8.2 q-1.6 0 -1.6 1.4 v1.6 q0 0.8 -0.9 0.9 q0.9 0.1 0.9 0.9 v1.8 q0 1.3 1.6 1.3" fill="none" stroke="#5a4a3a" stroke-width="0.8"/>
<path d="M506.2 11.4 h4 v3.7 h3.7 v4 h-3.7 v3.6 h-4 v-3.6 h-3.7 v-4 h3.7 z" fill="url(#gG)" stroke="#009000" stroke-width="0.9"/>
<polygon points="519.7,12 526,12 522.85,15.2" fill="#000"/>
<circle cx="544" cy="12.8" r="7.8" fill="url(#gBlue2)"/><circle cx="544" cy="12.8" r="5.3" fill="url(#gClock)" stroke="#0c4aa8" stroke-width="0.5"/><path d="M544 9 V13.2 H546.6" stroke="#202020" stroke-width="1.1" fill="none"/><path d="M544 7.9 v0.8 M544 16.9 v0.8 M539.1 12.8 h0.8 M548.1 12.8 h0.8" stroke="#707070" stroke-width="0.7"/>
<polygon points="558.7,12 565,12 561.85,15.2" fill="#000"/>
<rect x="575.5" y="6.5" width="15" height="13" fill="#fff" stroke="#3474cc" stroke-width="1"/><rect x="575.5" y="6.5" width="15" height="2.6" fill="#3f84dc"/><rect x="575.5" y="18.6" width="15" height="1.2" fill="#3474cc"/><path d="M576 13.3 h14" stroke="#88a8d8" stroke-width="0.8"/><path d="M577 11.8 l3 -0.6 l2 -0.8 l3 0.4 l3 -1.2" stroke="#a82408" stroke-width="1.1" fill="none"/><path d="M577 17.3 l3 -1 l2 0.6 l3 -1.8 l3 1.6" stroke="#109020" stroke-width="1.1" fill="none"/>
<polygon points="597.7,12 604,12 600.85,15.2" fill="#000"/>
<g shape-rendering="crispEdges"><rect x="609" y="0" width="1" height="24" fill="#a0a0a0"/><rect x="610" y="0" width="1" height="24" fill="#ffffff"/>
<rect x="613" y="3" width="3" height="1" fill="#b4b4b4"/>
<rect x="613" y="5" width="3" height="1" fill="#b4b4b4"/>
<rect x="613" y="7" width="3" height="1" fill="#b4b4b4"/>
<rect x="613" y="9" width="3" height="1" fill="#b4b4b4"/>
<rect x="613" y="11" width="3" height="1" fill="#b4b4b4"/>
<rect x="613" y="13" width="3" height="1" fill="#b4b4b4"/>
<rect x="613" y="15" width="3" height="1" fill="#b4b4b4"/>
<rect x="613" y="17" width="3" height="1" fill="#b4b4b4"/>
<rect x="613" y="19" width="3" height="1" fill="#b4b4b4"/>
<rect x="613" y="21" width="3" height="1" fill="#b4b4b4"/>
</g>
<g shape-rendering="crispEdges"><rect x="619" y="1" width="26" height="23" fill="url(#chk)"/><rect x="619" y="1" width="25" height="1" fill="#a0a0a0"/><rect x="619" y="1" width="1" height="22" fill="#a0a0a0"/><rect x="619" y="23" width="26" height="1" fill="#ffffff"/><rect x="644" y="1" width="1" height="23" fill="#ffffff"/></g>
<path d="M626.8 6 L626.8 18 L629.6 15.4 L631.8 20 L633.6 19.2 L631.4 14.8 L635.2 14.6 Z" fill="#505050"/>
<path d="M659.5 5.6 V11 M659.5 15.6 V20.8 M652 13.2 H657.4 M661.6 13.2 H667" stroke="#505050" stroke-width="1.1"/><rect x="659" y="12.7" width="1" height="1" fill="#505050"/>
<rect x="676" y="2" width="1" height="21" fill="#a0a0a0" shape-rendering="crispEdges"/>
<path d="M693.5 7 V20" stroke="#505050" stroke-width="1.2"/><path d="M716 13.3 H728" stroke="#505050" stroke-width="1.2"/><path d="M744 19.8 L756 8" stroke="#505050" stroke-width="1.3"/>
<path d="M769.5 14.4 L783.2 6 M771 19 L784.6 10.8" stroke="#484848" stroke-width="1.2" fill="none"/><path d="M773.5 10.6 V18.6 M777.8 8 V16 M782.2 4.8 V13.2" stroke="#484848" stroke-width="1.1" fill="none"/><text x="780.6" y="21.8" font-size="7px" font-weight="bold" fill="#303030" stroke="#303030" stroke-width="0.2">E</text>
<g shape-rendering="crispEdges" stroke="#505050" stroke-width="1" stroke-dasharray="1 1"><path d="M799 6.5 H813 M799 9.5 H813 M799 13.5 H813"/><path d="M799 17.5 H808"/></g><text x="808.6" y="21.8" font-size="7px" font-weight="bold" fill="#303030" stroke="#303030" stroke-width="0.2">F</text>
<text x="829.8" y="17.7" font-size="12.2px" fill="#505050" stroke="#505050" stroke-width="0.35">A</text>
<g shape-rendering="crispEdges"><rect x="856.5" y="6.5" width="11" height="13" fill="none" stroke="#505050" stroke-width="1" stroke-dasharray="1 1"/><rect x="855" y="6" width="2" height="1" fill="#505050"/></g><text x="858.2" y="17.7" font-size="12px" fill="#505050" stroke="#505050" stroke-width="0.3">T</text>
<path d="M886.8 5.9 l3.5 3.4 l-3.5 3.4 l-3.5 -3.4 z M893.4 13.4 l3.5 3.4 l-3.5 3.4 l-3.5 -3.4 z" fill="#505050"/><path d="M885 14.2 l2.7 2.2 l4.4 -5.3" stroke="#505050" stroke-width="1.3" fill="none"/>
<polygon points="903.7,12 910,12 906.85,15.2" fill="#000"/>
<g shape-rendering="crispEdges"><rect x="915" y="0" width="1" height="24" fill="#a0a0a0"/><rect x="916" y="0" width="1" height="24" fill="#ffffff"/>
<rect x="919" y="3" width="3" height="1" fill="#b4b4b4"/>
<rect x="919" y="5" width="3" height="1" fill="#b4b4b4"/>
<rect x="919" y="7" width="3" height="1" fill="#b4b4b4"/>
<rect x="919" y="9" width="3" height="1" fill="#b4b4b4"/>
<rect x="919" y="11" width="3" height="1" fill="#b4b4b4"/>
<rect x="919" y="13" width="3" height="1" fill="#b4b4b4"/>
<rect x="919" y="15" width="3" height="1" fill="#b4b4b4"/>
<rect x="919" y="17" width="3" height="1" fill="#b4b4b4"/>
<rect x="919" y="19" width="3" height="1" fill="#b4b4b4"/>
<rect x="919" y="21" width="3" height="1" fill="#b4b4b4"/>
</g>
<g shape-rendering="crispEdges"><rect x="1065" y="1" width="26" height="23" fill="url(#chk)"/><rect x="1065" y="1" width="25" height="1" fill="#a0a0a0"/><rect x="1065" y="1" width="1" height="22" fill="#a0a0a0"/><rect x="1065" y="23" width="26" height="1" fill="#ffffff"/><rect x="1090" y="1" width="1" height="23" fill="#ffffff"/></g>
<text x="936.7" y="17" font-size="10.2px" fill="#3c3c3c" stroke="#3c3c3c" stroke-width="0.15" text-anchor="middle">M1</text>
<text x="964.7" y="17" font-size="10.2px" fill="#3c3c3c" stroke="#3c3c3c" stroke-width="0.15" text-anchor="middle">M5</text>
<text x="993" y="17" font-size="10.2px" fill="#3c3c3c" stroke="#3c3c3c" stroke-width="0.15" text-anchor="middle">M15</text>
<text x="1021.3" y="17" font-size="10.2px" fill="#3c3c3c" stroke="#3c3c3c" stroke-width="0.15" text-anchor="middle">M30</text>
<text x="1049.4" y="17" font-size="10.2px" fill="#3c3c3c" stroke="#3c3c3c" stroke-width="0.15" text-anchor="middle">H1</text>
<text x="1076.8" y="17" font-size="10.2px" fill="#3c3c3c" stroke="#3c3c3c" stroke-width="0.15" text-anchor="middle">H4</text>
<text x="1105.3" y="17" font-size="10.2px" fill="#3c3c3c" stroke="#3c3c3c" stroke-width="0.15" text-anchor="middle">D1</text>
<text x="1133.9" y="17" font-size="10.2px" fill="#3c3c3c" stroke="#3c3c3c" stroke-width="0.15" text-anchor="middle">W1</text>
<text x="1160.6" y="17" font-size="10.2px" fill="#3c3c3c" stroke="#3c3c3c" stroke-width="0.15" text-anchor="middle">MN</text>
<g shape-rendering="crispEdges"><rect x="1176" y="0" width="1" height="24" fill="#a0a0a0"/><rect x="1177" y="0" width="1" height="24" fill="#fff"/></g>
<path d="M1643 13.6 L1638.8 18" stroke="#2a62d8" stroke-width="2.4" stroke-linecap="round"/><circle cx="1646.5" cy="10" r="3.9" fill="#f4f8ff" stroke="#2a5ed0" stroke-width="1.3"/>
<path d="M1663.6 15 a5.2 4.6 0 1 1 5.4 4.6 l-2.6 2.2 l0.3 -2.4 a5.2 4.6 0 0 1 -3.1 -4.4 z" fill="#e4e6ee" stroke="#a8a8b0" stroke-width="0.8"/>
<circle cx="1677.6" cy="10.3" r="8.3" fill="url(#gRedB)"/><text x="1677.6" y="15" font-size="13px" fill="#fff" text-anchor="middle">1</text>
</svg></body></html>
